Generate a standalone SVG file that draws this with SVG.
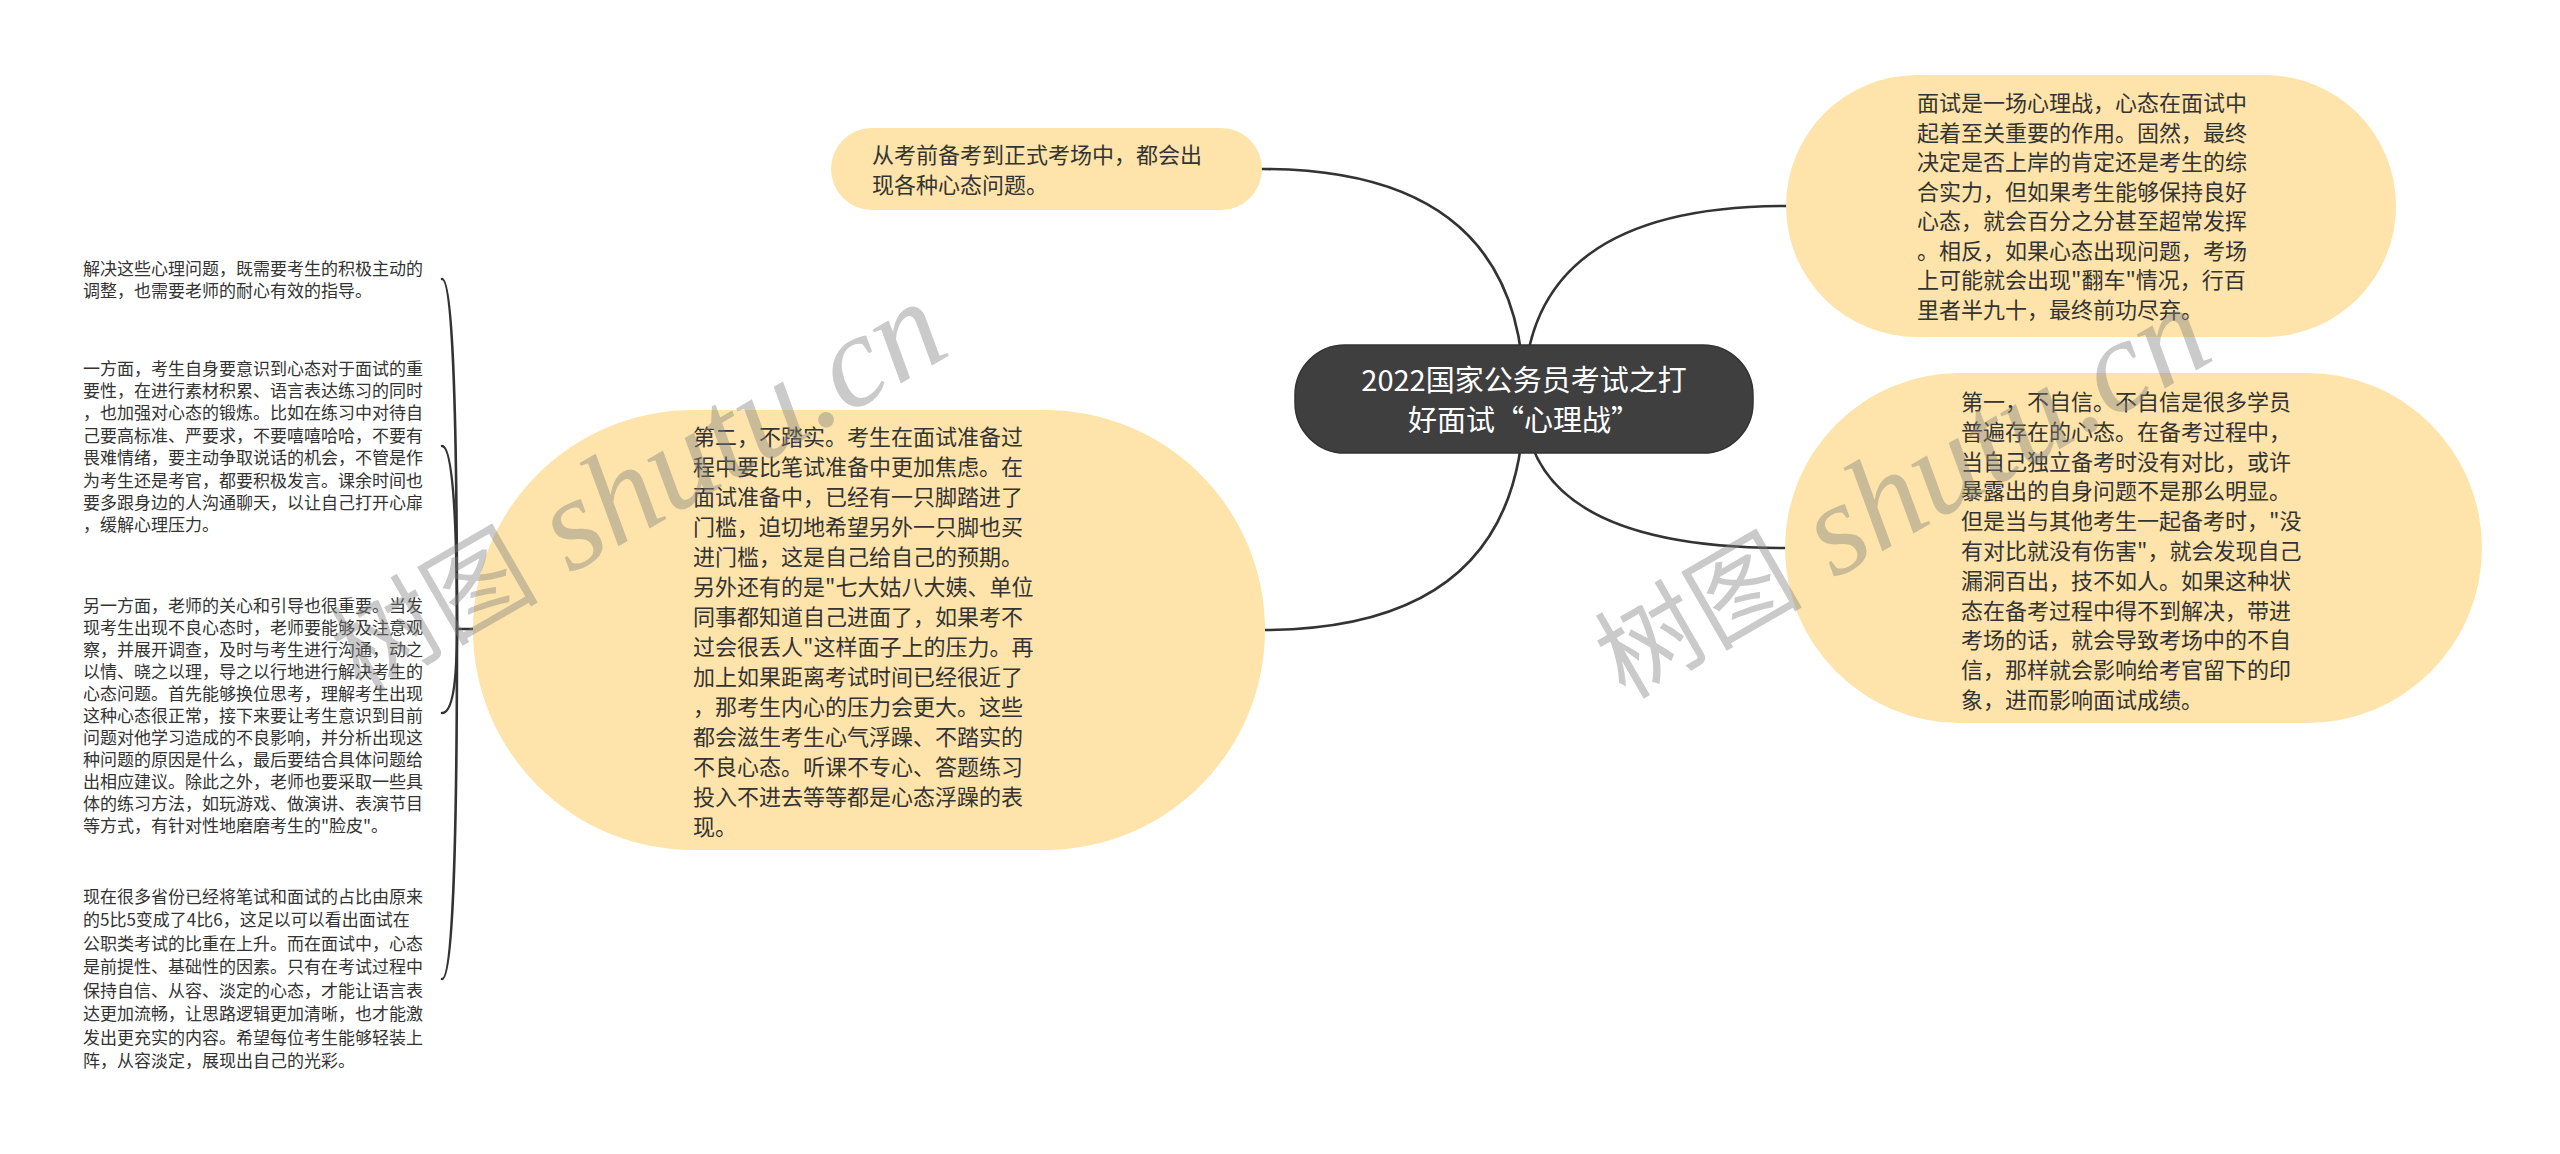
<svg xmlns="http://www.w3.org/2000/svg" width="2560" height="1154" viewBox="0 0 2560 1154">
<style>
.bg{fill:#ffffff}
.node{fill:#fee4aa}
.root{fill:#3f3f3f;stroke:#333333;stroke-width:1.5}
.t{font-family:"Noto Sans CJK SC","Noto Sans",sans-serif;font-size:22px;fill:#333333}
.ts{font-family:"Noto Sans CJK SC","Noto Sans",sans-serif;font-size:17px;fill:#333333}
.tr{font-family:"Noto Sans CJK SC","Noto Sans",sans-serif;font-size:29px;fill:#ffffff;text-anchor:middle}
.link{fill:none;stroke:#333333;stroke-width:2.6;stroke-linecap:round}
.wm{fill:#808080;fill-opacity:0.42}
.wmc{font-family:"Noto Sans CJK SC",sans-serif;font-size:104px}
.wml{font-family:"Liberation Serif",serif;font-style:italic;font-size:132px}
</style>
<rect class="bg" x="0" y="0" width="2560" height="1154"/>

<g id="connectors">
  <path class="link" d="M1524,398 Q1524,169 1262,169"/>
  <path class="link" d="M1524,398 Q1524,206 1786,206"/>
  <path class="link" d="M1524,398 Q1524,548 1785,548"/>
  <path class="link" d="M1524,398 Q1524,630 1262,630"/>
  <path class="link" d="M473,629 L457,629"/>
  <path class="link" d="M457,629 Q457,279 442,279"/>
  <path class="link" d="M457,629 Q457,446 442,446"/>
  <path class="link" d="M457,629 Q457,713 442,713"/>
  <path class="link" d="M457,629 Q457,979 442,979"/>
</g>

<g id="root">
  <rect class="root" x="1295" y="345" width="458" height="108" rx="50" ry="50"/>
  <text class="tr"><tspan x="1524" y="391">2022国家公务员考试之打</tspan><tspan x="1524" y="431">好面试“心理战”</tspan></text>
</g>

<g id="n-top">
  <rect class="node" x="831" y="128" width="431" height="82" rx="41" ry="41"/>
  <text class="t"><tspan x="872" y="163">从考前备考到正式考场中，都会出</tspan><tspan x="872" y="193">现各种心态问题。</tspan></text>
</g>

<g id="n-right-top">
  <rect class="node" x="1786" y="75" width="610" height="262" rx="131" ry="131"/>
  <text class="t">
    <tspan x="1917" y="111">面试是一场心理战，心态在面试中</tspan>
    <tspan x="1917" y="140.5">起着至关重要的作用。固然，最终</tspan>
    <tspan x="1917" y="170">决定是否上岸的肯定还是考生的综</tspan>
    <tspan x="1917" y="199.5">合实力，但如果考生能够保持良好</tspan>
    <tspan x="1917" y="229">心态，就会百分之分甚至超常发挥</tspan>
    <tspan x="1917" y="258.5">。相反，如果心态出现问题，考场</tspan>
    <tspan x="1917" y="288">上可能就会出现"翻车"情况，行百</tspan>
    <tspan x="1917" y="317.5">里者半九十，最终前功尽弃。</tspan>
  </text>
</g>

<g id="n-right-bottom">
  <rect class="node" x="1785" y="373" width="697" height="350" rx="175" ry="175"/>
  <text class="t">
    <tspan x="1961" y="410">第一，不自信。不自信是很多学员</tspan>
    <tspan x="1961" y="439.8">普遍存在的心态。在备考过程中，</tspan>
    <tspan x="1961" y="469.6">当自己独立备考时没有对比，或许</tspan>
    <tspan x="1961" y="499.4">暴露出的自身问题不是那么明显。</tspan>
    <tspan x="1961" y="529.2">但是当与其他考生一起备考时，"没</tspan>
    <tspan x="1961" y="559">有对比就没有伤害"，就会发现自己</tspan>
    <tspan x="1961" y="588.8">漏洞百出，技不如人。如果这种状</tspan>
    <tspan x="1961" y="618.6">态在备考过程中得不到解决，带进</tspan>
    <tspan x="1961" y="648.4">考场的话，就会导致考场中的不自</tspan>
    <tspan x="1961" y="678.2">信，那样就会影响给考官留下的印</tspan>
    <tspan x="1961" y="708">象，进而影响面试成绩。</tspan>
  </text>
</g>

<g id="n-left">
  <rect class="node" x="473" y="410" width="792" height="440" rx="220" ry="220"/>
  <text class="t">
    <tspan x="693" y="445">第二，不踏实。考生在面试准备过</tspan>
    <tspan x="693" y="475">程中要比笔试准备中更加焦虑。在</tspan>
    <tspan x="693" y="505">面试准备中，已经有一只脚踏进了</tspan>
    <tspan x="693" y="535">门槛，迫切地希望另外一只脚也买</tspan>
    <tspan x="693" y="565">进门槛，这是自己给自己的预期。</tspan>
    <tspan x="693" y="595">另外还有的是"七大姑八大姨、单位</tspan>
    <tspan x="693" y="625">同事都知道自己进面了，如果考不</tspan>
    <tspan x="693" y="655">过会很丢人"这样面子上的压力。再</tspan>
    <tspan x="693" y="685">加上如果距离考试时间已经很近了</tspan>
    <tspan x="693" y="715">，那考生内心的压力会更大。这些</tspan>
    <tspan x="693" y="745">都会滋生考生心气浮躁、不踏实的</tspan>
    <tspan x="693" y="775">不良心态。听课不专心、答题练习</tspan>
    <tspan x="693" y="805">投入不进去等等都是心态浮躁的表</tspan>
    <tspan x="693" y="835">现。</tspan>
  </text>
</g>

<g id="c1">
  <text class="ts">
    <tspan x="83" y="274.5">解决这些心理问题，既需要考生的积极主动的</tspan>
    <tspan x="83" y="297">调整，也需要老师的耐心有效的指导。</tspan>
  </text>
</g>

<g id="c2">
  <text class="ts">
    <tspan x="83" y="374.5">一方面，考生自身要意识到心态对于面试的重</tspan>
    <tspan x="83" y="396.9">要性，在进行素材积累、语言表达练习的同时</tspan>
    <tspan x="83" y="419.3">，也加强对心态的锻炼。比如在练习中对待自</tspan>
    <tspan x="83" y="441.7">己要高标准、严要求，不要嘻嘻哈哈，不要有</tspan>
    <tspan x="83" y="464.1">畏难情绪，要主动争取说话的机会，不管是作</tspan>
    <tspan x="83" y="486.5">为考生还是考官，都要积极发言。课余时间也</tspan>
    <tspan x="83" y="508.9">要多跟身边的人沟通聊天，以让自己打开心扉</tspan>
    <tspan x="83" y="531.3">，缓解心理压力。</tspan>
  </text>
</g>

<g id="c3">
  <text class="ts">
    <tspan x="83" y="611.5">另一方面，老师的关心和引导也很重要。当发</tspan>
    <tspan x="83" y="633.5">现考生出现不良心态时，老师要能够及注意观</tspan>
    <tspan x="83" y="655.5">察，并展开调查，及时与考生进行沟通，动之</tspan>
    <tspan x="83" y="677.5">以情、晓之以理，导之以行地进行解决考生的</tspan>
    <tspan x="83" y="699.5">心态问题。首先能够换位思考，理解考生出现</tspan>
    <tspan x="83" y="721.5">这种心态很正常，接下来要让考生意识到目前</tspan>
    <tspan x="83" y="743.5">问题对他学习造成的不良影响，并分析出现这</tspan>
    <tspan x="83" y="765.5">种问题的原因是什么，最后要结合具体问题给</tspan>
    <tspan x="83" y="787.5">出相应建议。除此之外，老师也要采取一些具</tspan>
    <tspan x="83" y="809.5">体的练习方法，如玩游戏、做演讲、表演节目</tspan>
    <tspan x="83" y="831.5">等方式，有针对性地磨磨考生的"脸皮"。</tspan>
  </text>
</g>

<g id="c4">
  <text class="ts">
    <tspan x="83" y="902.5">现在很多省份已经将笔试和面试的占比由原来</tspan>
    <tspan x="83" y="926">的5比5变成了4比6，这足以可以看出面试在</tspan>
    <tspan x="83" y="949.5">公职类考试的比重在上升。而在面试中，心态</tspan>
    <tspan x="83" y="973">是前提性、基础性的因素。只有在考试过程中</tspan>
    <tspan x="83" y="996.5">保持自信、从容、淡定的心态，才能让语言表</tspan>
    <tspan x="83" y="1020">达更加流畅，让思路逻辑更加清晰，也才能激</tspan>
    <tspan x="83" y="1043.5">发出更充实的内容。希望每位考生能够轻装上</tspan>
    <tspan x="83" y="1067">阵，从容淡定，展现出自己的光彩。</tspan>
  </text>
</g>

<g id="watermarks" class="wm">
  <text transform="translate(361,695) rotate(-30)"><tspan class="wmc">树图</tspan><tspan class="wml"> shutu.cn</tspan></text>
  <text transform="translate(1625,700) rotate(-30)"><tspan class="wmc">树图</tspan><tspan class="wml"> shutu.cn</tspan></text>
</g>
</svg>
